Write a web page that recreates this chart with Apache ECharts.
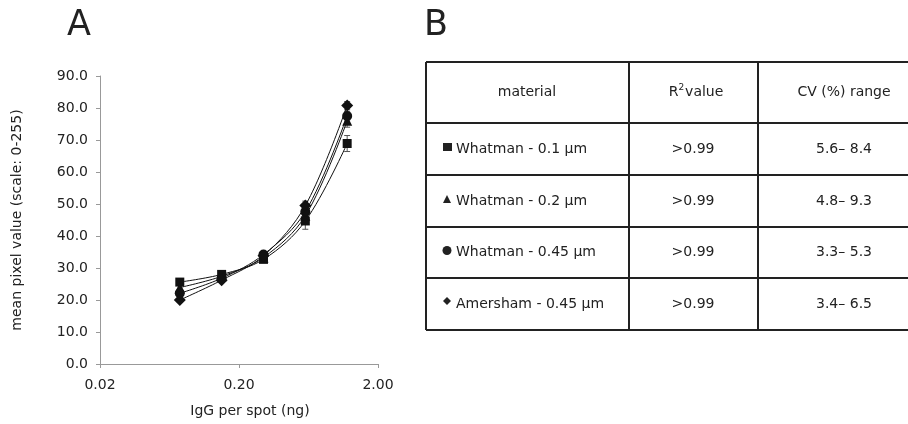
<!DOCTYPE html>
<html>
<head>
<meta charset="utf-8">
<script src="https://cdn.jsdelivr.net/npm/echarts@6/dist/echarts.min.js"></script>
<style>
  html, body { margin: 0; padding: 0; background: #fff; }
  #chart { width: 908px; height: 424px; }
</style>
</head>
<body>
<div id="chart"></div>
<script>
// IgG per spot (ng)
const dose = [0.075, 0.15, 0.3, 0.6, 1.2];

// mean pixel values per membrane
const whatman01 = [25.6, 28.0, 32.7, 44.7, 68.9];
const whatman02 = [23.9, 27.4, 33.3, 46.3, 76.0];
const whatman045 = [22.1, 26.8, 34.2, 47.6, 77.5];
const amersham045 = [20.0, 26.2, 33.8, 49.5, 80.8];

// error bar half-widths
const err01 = [0.8, 0.8, 1.0, 2.6, 2.5];
const err02 = [0.7, 0.7, 0.9, 2.2, 2.0];
const err045 = [0.6, 0.6, 0.8, 1.6, 1.5];
const errAm = [0.6, 0.6, 0.8, 1.4, 1.2];

const xTicks = [0.02, 0.2, 2];
const yTicks = [0, 10, 20, 30, 40, 50, 60, 70, 80, 90];

// table panel B
const tableHeader = ['material', 'value', 'CV (%) range'];
const materials = ['Whatman - 0.1 µm', 'Whatman - 0.2 µm', 'Whatman - 0.45 µm', 'Amersham - 0.45 µm'];
const r2Values = ['>0.99', '>0.99', '>0.99', '>0.99'];
const cvRanges = ['5.6\u2013 8.4', '4.8\u2013 9.3', '3.3\u2013 5.3', '3.4\u2013 6.5'];

const FONT = '"DejaVu Sans", sans-serif';
const INK = '#222';

// log10 axis relative to 0.02, so ticks land on 0.02 / 0.20 / 2.00
const toAxis = x => Math.log10(x / xTicks[0]);

const chart = echarts.init(document.getElementById('chart'));

const seriesDefs = [
  { name: materials[0], data: whatman01, err: err01, symbol: 'rect', size: 9 },
  { name: materials[1], data: whatman02, err: err02, symbol: 'triangle', size: 10 },
  { name: materials[2], data: whatman045, err: err045, symbol: 'circle', size: 10 },
  { name: materials[3], data: amersham045, err: errAm, symbol: 'diamond', size: 12 }
];

const series = [];
seriesDefs.forEach(s => {
  series.push({
    type: 'custom',
    name: s.name + ' err',
    silent: true,
    z: 1,
    data: dose.map((d, i) => [toAxis(d), s.data[i] - s.err[i], s.data[i] + s.err[i]]),
    renderItem: (params, api) => {
      const lo = api.coord([api.value(0), api.value(1)]);
      const hi = api.coord([api.value(0), api.value(2)]);
      const cap = 3;
      const style = { stroke: '#555', lineWidth: 1 };
      return {
        type: 'group',
        children: [
          { type: 'line', shape: { x1: lo[0], y1: lo[1], x2: hi[0], y2: hi[1] }, style },
          { type: 'line', shape: { x1: lo[0] - cap, y1: lo[1], x2: lo[0] + cap, y2: lo[1] }, style },
          { type: 'line', shape: { x1: hi[0] - cap, y1: hi[1], x2: hi[0] + cap, y2: hi[1] }, style }
        ]
      };
    }
  });
  series.push({
    type: 'line',
    name: s.name,
    smooth: 0.35,
    z: 3,
    data: dose.map((d, i) => [toAxis(d), s.data[i]]),
    symbol: s.symbol,
    symbolSize: s.size,
    itemStyle: { color: '#111' },
    lineStyle: { color: '#111', width: 1 }
  });
});

// table graphics
const colX = [426, 629, 758];
const rightX = 908;
const rowY = [62, 123, 175, 227, 278, 330];
const colCenter = [527, 693, 844];
const tableStroke = { stroke: INK, lineWidth: 2 };
const textStyle = (x, y, text, align) => ({
  type: 'text', x, y,
  style: { text, font: '14px ' + FONT, fill: INK, align: align || 'center', verticalAlign: 'middle' }
});
const graphics = [];
rowY.forEach(y => graphics.push({ type: 'line', shape: { x1: colX[0], y1: y, x2: rightX, y2: y }, style: tableStroke }));
colX.forEach(x => graphics.push({ type: 'line', shape: { x1: x, y1: rowY[0], x2: x, y2: rowY[rowY.length - 1] }, style: tableStroke }));

const headY = (rowY[0] + rowY[1]) / 2;
graphics.push(textStyle(colCenter[0], headY, tableHeader[0]));
graphics.push({
  type: 'text', x: colCenter[1] + 3, y: headY,
  style: {
    rich: {
      r: { font: '14px ' + FONT, fill: INK },
      sup: { font: '9px ' + FONT, fill: INK, verticalAlign: 'top', padding: [0, 1, 10, 0] }
    },
    text: '{r|R}{sup|2}{r|' + tableHeader[1] + '}',
    align: 'center', verticalAlign: 'middle'
  }
});
graphics.push(textStyle(colCenter[2], headY, tableHeader[2]));

const markerShapes = [
  cy => ({ type: 'rect', shape: { x: 443, y: cy - 6, width: 9, height: 8 }, style: { fill: INK } }),
  cy => ({ type: 'polygon', shape: { points: [[443, cy + 2], [451, cy + 2], [447, cy - 6]] }, style: { fill: INK } }),
  cy => ({ type: 'circle', shape: { cx: 447, cy: cy - 2, r: 4.5 }, style: { fill: INK } }),
  cy => ({ type: 'polygon', shape: { points: [[447, cy - 7], [451, cy - 3], [447, cy + 1], [443, cy - 3]] }, style: { fill: INK } })
];
materials.forEach((m, i) => {
  const cy = (rowY[i + 1] + rowY[i + 2]) / 2;
  graphics.push(markerShapes[i](cy));
  graphics.push(textStyle(456, cy, m, 'left'));
  graphics.push(textStyle(colCenter[1], cy, r2Values[i]));
  graphics.push(textStyle(colCenter[2], cy, cvRanges[i]));
});

graphics.push({ type: 'text', x: 79, y: 26, style: { text: 'A', font: '35px ' + FONT, fill: INK, align: 'center', verticalAlign: 'middle' } });
graphics.push({ type: 'text', x: 436, y: 26, style: { text: 'B', font: '35px ' + FONT, fill: INK, align: 'center', verticalAlign: 'middle' } });

const option = {
  animation: false,
  backgroundColor: '#fff',
  textStyle: { fontFamily: FONT },
  grid: { left: 100, right: 530, top: 76, bottom: 60 },
  xAxis: {
    type: 'value',
    min: 0,
    max: toAxis(xTicks[xTicks.length - 1]),
    interval: 1,
    name: 'IgG per spot (ng)',
    nameLocation: 'middle',
    nameGap: 40,
    nameTextStyle: { fontSize: 14, color: INK, padding: [0, 0, 0, 22] },
    axisLine: { lineStyle: { color: '#999' } },
    axisTick: { lineStyle: { color: '#999' }, length: 4 },
    axisLabel: {
      fontSize: 14, color: INK, margin: 14,
      formatter: v => (xTicks[0] * Math.pow(10, v)).toFixed(2)
    },
    splitLine: { show: false }
  },
  yAxis: {
    type: 'value',
    min: yTicks[0],
    max: yTicks[yTicks.length - 1],
    interval: 10,
    name: 'mean pixel value (scale: 0-255)',
    nameLocation: 'middle',
    nameGap: 76,
    nameTextStyle: { fontSize: 14, color: INK },
    axisLine: { show: true, lineStyle: { color: '#999' } },
    axisTick: { show: true, lineStyle: { color: '#999' }, length: 4 },
    axisLabel: { fontSize: 14, color: INK, margin: 12, formatter: v => v.toFixed(1) },
    splitLine: { show: false }
  },
  series,
  graphic: graphics
};
chart.setOption(option);
</script>
</body>
</html>
